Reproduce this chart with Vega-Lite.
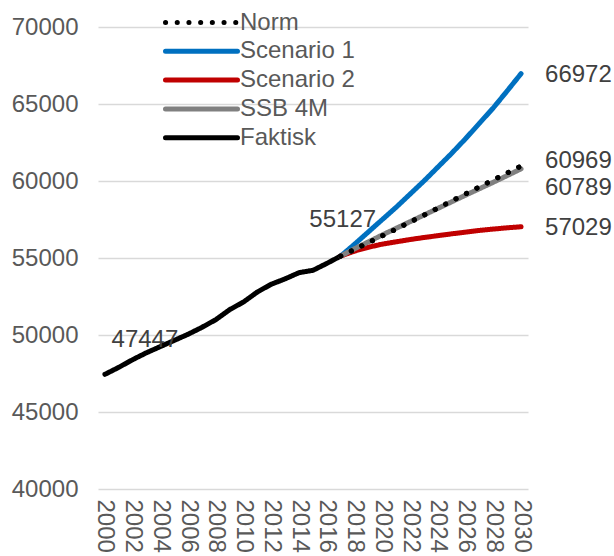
{
  "$schema": "https://vega.github.io/schema/vega-lite/v6.json",
  "width": 430,
  "height": 462,
  "autosize": {"type": "none"},
  "padding": {"left": 98, "top": 27, "right": 86, "bottom": 67},
  "background": "white",
  "config": {
    "view": {"stroke": null},
    "font": "Liberation Sans",
    "axis": {"labelFont": "Liberation Sans", "labelColor": "#595959", "labelFontSize": 24, "title": null}
  },
  "datasets": {
    "lines": [
      {"series": "Faktisk", "year": 2000, "value": 47447},
      {"series": "Faktisk", "year": 2001, "value": 47900},
      {"series": "Faktisk", "year": 2002, "value": 48400},
      {"series": "Faktisk", "year": 2003, "value": 48850},
      {"series": "Faktisk", "year": 2004, "value": 49250},
      {"series": "Faktisk", "year": 2005, "value": 49650},
      {"series": "Faktisk", "year": 2006, "value": 50050},
      {"series": "Faktisk", "year": 2007, "value": 50500},
      {"series": "Faktisk", "year": 2008, "value": 51000},
      {"series": "Faktisk", "year": 2009, "value": 51650},
      {"series": "Faktisk", "year": 2010, "value": 52150},
      {"series": "Faktisk", "year": 2011, "value": 52800},
      {"series": "Faktisk", "year": 2012, "value": 53300},
      {"series": "Faktisk", "year": 2013, "value": 53650},
      {"series": "Faktisk", "year": 2014, "value": 54050},
      {"series": "Faktisk", "year": 2015, "value": 54200},
      {"series": "Faktisk", "year": 2016, "value": 54650},
      {"series": "Faktisk", "year": 2017, "value": 55127},
      {"series": "Scenario 1", "year": 2017, "value": 55127},
      {"series": "Scenario 1", "year": 2018, "value": 55900},
      {"series": "Scenario 1", "year": 2019, "value": 56700},
      {"series": "Scenario 1", "year": 2020, "value": 57500},
      {"series": "Scenario 1", "year": 2021, "value": 58300},
      {"series": "Scenario 1", "year": 2022, "value": 59150},
      {"series": "Scenario 1", "year": 2023, "value": 60000},
      {"series": "Scenario 1", "year": 2024, "value": 60900},
      {"series": "Scenario 1", "year": 2025, "value": 61800},
      {"series": "Scenario 1", "year": 2026, "value": 62750},
      {"series": "Scenario 1", "year": 2027, "value": 63750},
      {"series": "Scenario 1", "year": 2028, "value": 64750},
      {"series": "Scenario 1", "year": 2029, "value": 65850},
      {"series": "Scenario 1", "year": 2030, "value": 66972},
      {"series": "Scenario 2", "year": 2017, "value": 55127},
      {"series": "Scenario 2", "year": 2018, "value": 55450},
      {"series": "Scenario 2", "year": 2019, "value": 55700},
      {"series": "Scenario 2", "year": 2020, "value": 55900},
      {"series": "Scenario 2", "year": 2021, "value": 56050},
      {"series": "Scenario 2", "year": 2022, "value": 56200},
      {"series": "Scenario 2", "year": 2023, "value": 56330},
      {"series": "Scenario 2", "year": 2024, "value": 56450},
      {"series": "Scenario 2", "year": 2025, "value": 56570},
      {"series": "Scenario 2", "year": 2026, "value": 56680},
      {"series": "Scenario 2", "year": 2027, "value": 56790},
      {"series": "Scenario 2", "year": 2028, "value": 56880},
      {"series": "Scenario 2", "year": 2029, "value": 56960},
      {"series": "Scenario 2", "year": 2030, "value": 57029},
      {"series": "SSB 4M", "year": 2017, "value": 55127},
      {"series": "SSB 4M", "year": 2018, "value": 55600},
      {"series": "SSB 4M", "year": 2019, "value": 56050},
      {"series": "SSB 4M", "year": 2020, "value": 56500},
      {"series": "SSB 4M", "year": 2021, "value": 56930},
      {"series": "SSB 4M", "year": 2022, "value": 57360},
      {"series": "SSB 4M", "year": 2023, "value": 57790},
      {"series": "SSB 4M", "year": 2024, "value": 58220},
      {"series": "SSB 4M", "year": 2025, "value": 58650},
      {"series": "SSB 4M", "year": 2026, "value": 59080},
      {"series": "SSB 4M", "year": 2027, "value": 59500},
      {"series": "SSB 4M", "year": 2028, "value": 59920},
      {"series": "SSB 4M", "year": 2029, "value": 60350},
      {"series": "SSB 4M", "year": 2030, "value": 60789},
      {"series": "Norm", "year": 2017, "value": 55127},
      {"series": "Norm", "year": 2018, "value": 55560},
      {"series": "Norm", "year": 2019, "value": 56000},
      {"series": "Norm", "year": 2020, "value": 56440},
      {"series": "Norm", "year": 2021, "value": 56880},
      {"series": "Norm", "year": 2022, "value": 57330},
      {"series": "Norm", "year": 2023, "value": 57780},
      {"series": "Norm", "year": 2024, "value": 58240},
      {"series": "Norm", "year": 2025, "value": 58700},
      {"series": "Norm", "year": 2026, "value": 59160},
      {"series": "Norm", "year": 2027, "value": 59620},
      {"series": "Norm", "year": 2028, "value": 60070},
      {"series": "Norm", "year": 2029, "value": 60520},
      {"series": "Norm", "year": 2030, "value": 60969}
    ],
    "labels": [
      {"label": "end", "year": 2030, "value": 66972},
      {"label": "end", "year": 2030, "value": 57029},
      {"label": "endhigh", "year": 2030, "value": 60969},
      {"label": "endlow", "year": 2030, "value": 60789},
      {"label": "split", "year": 2017, "value": 55127},
      {"label": "start", "year": 2000, "value": 47447}
    ]
  },
  "encoding": {
    "x": {
      "field": "year", "type": "quantitative",
      "scale": {"domain": [1999.5, 2030.5], "nice": false, "zero": false},
      "axis": {
        "values": [2000, 2002, 2004, 2006, 2008, 2010, 2012, 2014, 2016, 2018, 2020, 2022, 2024, 2026, 2028, 2030],
        "format": "d", "labelAngle": 90, "grid": false, "domain": false, "ticks": false,
        "labelPadding": 10, "labelAlign": "left", "labelBaseline": "middle"
      }
    },
    "y": {
      "field": "value", "type": "quantitative",
      "scale": {"domain": [40000, 70000], "nice": false, "zero": false},
      "axis": {
        "values": [40000, 45000, 50000, 55000, 60000, 65000, 70000],
        "format": "d", "grid": true, "gridColor": "#D9D9D9", "gridWidth": 1.5,
        "domain": false, "ticks": false, "labelPadding": 20
      }
    }
  },
  "layer": [
    {
      "data": {"name": "lines"},
      "mark": {"type": "line", "strokeWidth": 5, "strokeCap": "round", "strokeJoin": "round"},
      "encoding": {
        "color": {
          "field": "series", "type": "nominal",
          "scale": {
            "domain": ["Norm", "Scenario 1", "Scenario 2", "SSB 4M", "Faktisk"],
            "range": ["#000000", "#0070C0", "#C00000", "#808080", "#000000"]
          },
          "legend": {
            "title": null, "orient": "none", "legendX": 89, "legendY": -19,
            "padding": 0, "symbolOffset": 0,
            "symbolType": "M-3,0H3", "symbolSize": 576, "symbolStrokeWidth": 5,
            "labelFont": "Liberation Sans", "labelFontSize": 24, "labelColor": "#595959",
            "labelOffset": 24, "rowPadding": 1.8, "labelLimit": 300,
            "encode": {"symbols": {"update": {"strokeCap": {"value": "round"}}}}
          }
        },
        "strokeDash": {
          "field": "series", "type": "nominal",
          "scale": {
            "domain": ["Norm", "Scenario 1", "Scenario 2", "SSB 4M", "Faktisk"],
            "range": [[0.1, 11.6], [1, 0], [1, 0], [1, 0], [1, 0]]
          },
          "legend": null
        }
      }
    },
    {
      "data": {"name": "lines"},
      "transform": [{"filter": "datum.series === 'Norm'"}],
      "mark": {"type": "line", "strokeWidth": 5, "strokeCap": "round", "strokeDash": [0.1, 11.6], "color": "#000000"},
      "encoding": {}
    },
    {
      "data": {"name": "labels"},
      "transform": [{"filter": "datum.label === 'end'"}],
      "mark": {"type": "text", "align": "left", "baseline": "middle", "dx": 24, "dy": 1, "fontSize": 24, "color": "#404040", "font": "Liberation Sans"},
      "encoding": {"text": {"field": "value", "type": "quantitative", "format": "d"}}
    },
    {
      "data": {"name": "labels"},
      "transform": [{"filter": "datum.label === 'endhigh'"}],
      "mark": {"type": "text", "align": "left", "baseline": "middle", "dx": 24, "dy": -5, "fontSize": 24, "color": "#404040", "font": "Liberation Sans"},
      "encoding": {"text": {"field": "value", "type": "quantitative", "format": "d"}}
    },
    {
      "data": {"name": "labels"},
      "transform": [{"filter": "datum.label === 'endlow'"}],
      "mark": {"type": "text", "align": "left", "baseline": "middle", "dx": 24, "dy": 19, "fontSize": 24, "color": "#404040", "font": "Liberation Sans"},
      "encoding": {"text": {"field": "value", "type": "quantitative", "format": "d"}}
    },
    {
      "data": {"name": "labels"},
      "transform": [{"filter": "datum.label === 'split'"}],
      "mark": {"type": "text", "align": "center", "baseline": "middle", "dx": 2, "dy": -36, "fontSize": 24, "color": "#404040", "font": "Liberation Sans"},
      "encoding": {"text": {"field": "value", "type": "quantitative", "format": "d"}}
    },
    {
      "data": {"name": "labels"},
      "transform": [{"filter": "datum.label === 'start'"}],
      "mark": {"type": "text", "align": "center", "baseline": "middle", "dx": 40, "dy": -34, "fontSize": 24, "color": "#404040", "font": "Liberation Sans"},
      "encoding": {"text": {"field": "value", "type": "quantitative", "format": "d"}}
    }
  ]
}
